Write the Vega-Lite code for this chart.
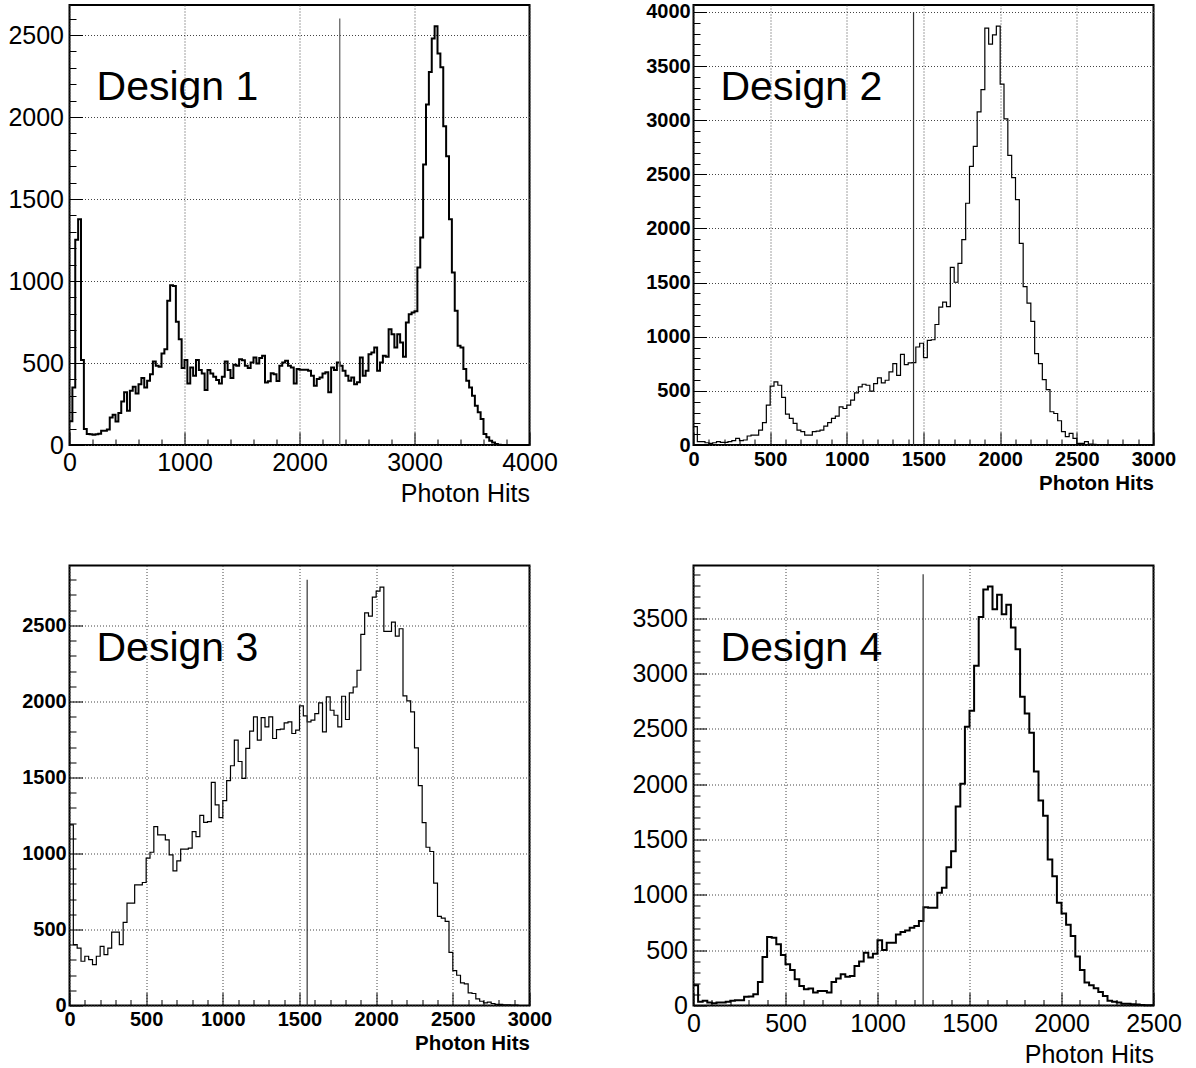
{
  "$schema": "https://vega.github.io/schema/vega-lite/v6.json",
  "padding": {"left": 6.5, "top": 0, "right": 5, "bottom": 2},
  "background": "white",
  "bounds": "flush",
  "spacing": {"row": 120.5, "column": 164},
  "columns": 2,
  "datasets": {
    "d1": [
      {"x":0,"y":145},{"x":25,"y":351},{"x":50,"y":1252},{"x":75,"y":1376},{"x":100,"y":518},{"x":125,"y":97},{"x":150,"y":67},{"x":175,"y":65},{"x":200,"y":62},{"x":225,"y":65},
      {"x":250,"y":68},{"x":275,"y":87},{"x":300,"y":87},{"x":325,"y":95},{"x":350,"y":168},{"x":375,"y":184},{"x":400,"y":144},{"x":425,"y":195},{"x":450,"y":265},{"x":475,"y":322},
      {"x":500,"y":209},{"x":525,"y":331},{"x":550,"y":355},{"x":575,"y":314},{"x":600,"y":371},{"x":625,"y":408},{"x":650,"y":351},{"x":675,"y":392},{"x":700,"y":432},{"x":725,"y":509},
      {"x":750,"y":483},{"x":775,"y":477},{"x":800,"y":558},{"x":825,"y":584},{"x":850,"y":879},{"x":875,"y":974},{"x":900,"y":970},{"x":925,"y":751},{"x":950,"y":645},{"x":975,"y":469},
      {"x":1000,"y":519},{"x":1025,"y":375},{"x":1050,"y":473},{"x":1075,"y":422},{"x":1100,"y":519},{"x":1125,"y":457},{"x":1150,"y":436},{"x":1175,"y":335},{"x":1200,"y":457},{"x":1225,"y":436},
      {"x":1250,"y":416},{"x":1275,"y":396},{"x":1300,"y":375},{"x":1325,"y":416},{"x":1350,"y":509},{"x":1375,"y":457},{"x":1400,"y":408},{"x":1425,"y":489},{"x":1450,"y":483},{"x":1475,"y":523},
      {"x":1500,"y":517},{"x":1525,"y":483},{"x":1550,"y":469},{"x":1575,"y":503},{"x":1600,"y":534},{"x":1625,"y":497},{"x":1650,"y":530},{"x":1675,"y":544},{"x":1700,"y":381},{"x":1725,"y":388},
      {"x":1750,"y":438},{"x":1775,"y":432},{"x":1800,"y":391},{"x":1825,"y":483},{"x":1850,"y":503},{"x":1875,"y":513},{"x":1900,"y":483},{"x":1925,"y":473},{"x":1950,"y":375},{"x":1975,"y":463},
      {"x":2000,"y":459},{"x":2025,"y":459},{"x":2050,"y":459},{"x":2075,"y":453},{"x":2100,"y":422},{"x":2125,"y":361},{"x":2150,"y":402},{"x":2175,"y":412},{"x":2200,"y":436},{"x":2225,"y":443},
      {"x":2250,"y":321},{"x":2275,"y":473},{"x":2300,"y":457},{"x":2325,"y":503},{"x":2350,"y":483},{"x":2375,"y":453},{"x":2400,"y":422},{"x":2425,"y":392},{"x":2450,"y":412},{"x":2475,"y":371},
      {"x":2500,"y":382},{"x":2525,"y":534},{"x":2550,"y":422},{"x":2575,"y":453},{"x":2600,"y":554},{"x":2625,"y":564},{"x":2650,"y":595},{"x":2675,"y":453},{"x":2700,"y":503},{"x":2725,"y":544},
      {"x":2750,"y":538},{"x":2775,"y":706},{"x":2800,"y":676},{"x":2825,"y":595},{"x":2850,"y":676},{"x":2875,"y":625},{"x":2900,"y":538},{"x":2925,"y":747},{"x":2950,"y":798},{"x":2975,"y":808},
      {"x":3000,"y":815},{"x":3025,"y":1082},{"x":3050,"y":1265},{"x":3075,"y":1711},{"x":3100,"y":2077},{"x":3125,"y":2274},{"x":3150,"y":2479},{"x":3175,"y":2554},{"x":3200,"y":2387},{"x":3225,"y":2304},
      {"x":3250,"y":1943},{"x":3275,"y":1760},{"x":3300,"y":1376},{"x":3325,"y":1052},{"x":3350,"y":818},{"x":3375,"y":605},{"x":3400,"y":595},{"x":3425,"y":463},{"x":3450,"y":392},{"x":3475,"y":351},
      {"x":3500,"y":300},{"x":3525,"y":240},{"x":3550,"y":199},{"x":3575,"y":158},{"x":3600,"y":67},{"x":3625,"y":47},{"x":3650,"y":26},{"x":3675,"y":16},{"x":3700,"y":6},{"x":3725,"y":2},
      {"x":3750,"y":0},{"x":3775,"y":0},{"x":3800,"y":0},{"x":3825,"y":0},{"x":3850,"y":0},{"x":3875,"y":0},{"x":3900,"y":0},{"x":3925,"y":0},{"x":3950,"y":0},{"x":3975,"y":0},
      {"x":4000,"y":0}
    ],
    "d2": [
      {"x":0,"y":169},{"x":25,"y":31},{"x":50,"y":31},{"x":75,"y":21},{"x":100,"y":15},{"x":125,"y":21},{"x":150,"y":31},{"x":175,"y":25},{"x":200,"y":25},{"x":225,"y":31},
      {"x":250,"y":40},{"x":275,"y":61},{"x":300,"y":40},{"x":325,"y":46},{"x":350,"y":83},{"x":375,"y":92},{"x":400,"y":92},{"x":425,"y":138},{"x":450,"y":206},{"x":475,"y":368},
      {"x":500,"y":543},{"x":525,"y":583},{"x":550,"y":552},{"x":575,"y":439},{"x":600,"y":285},{"x":625,"y":245},{"x":650,"y":199},{"x":675,"y":138},{"x":700,"y":123},{"x":725,"y":92},
      {"x":750,"y":92},{"x":775,"y":123},{"x":800,"y":129},{"x":825,"y":138},{"x":850,"y":175},{"x":875,"y":206},{"x":900,"y":245},{"x":925,"y":267},{"x":950,"y":353},{"x":975,"y":337},
      {"x":1000,"y":368},{"x":1025,"y":414},{"x":1050,"y":482},{"x":1075,"y":537},{"x":1100,"y":561},{"x":1125,"y":552},{"x":1150,"y":497},{"x":1175,"y":567},{"x":1200,"y":620},{"x":1225,"y":574},
      {"x":1250,"y":598},{"x":1275,"y":675},{"x":1300,"y":752},{"x":1325,"y":644},{"x":1350,"y":837},{"x":1375,"y":742},{"x":1400,"y":758},{"x":1425,"y":760},{"x":1450,"y":905},{"x":1475,"y":940},
      {"x":1500,"y":807},{"x":1525,"y":966},{"x":1550,"y":972},{"x":1575,"y":1113},{"x":1600,"y":1273},{"x":1625,"y":1319},{"x":1650,"y":1279},{"x":1675,"y":1641},{"x":1700,"y":1503},{"x":1725,"y":1678},
      {"x":1750,"y":1896},{"x":1775,"y":2233},{"x":1800,"y":2574},{"x":1825,"y":2758},{"x":1850,"y":3077},{"x":1875,"y":3282},{"x":1900,"y":3850},{"x":1925,"y":3702},{"x":1950,"y":3788},{"x":1975,"y":3868},
      {"x":2000,"y":3334},{"x":2025,"y":3012},{"x":2050,"y":2675},{"x":2075,"y":2469},{"x":2100,"y":2267},{"x":2125,"y":1862},{"x":2150,"y":1463},{"x":2175,"y":1310},{"x":2200,"y":1141},{"x":2225,"y":844},
      {"x":2250,"y":752},{"x":2275,"y":604},{"x":2300,"y":512},{"x":2325,"y":307},{"x":2350,"y":291},{"x":2375,"y":224},{"x":2400,"y":123},{"x":2425,"y":77},{"x":2450,"y":107},{"x":2475,"y":61},
      {"x":2500,"y":15},{"x":2525,"y":15},{"x":2550,"y":31},{"x":2575,"y":8},{"x":2600,"y":5},{"x":2625,"y":3},{"x":2650,"y":3},{"x":2675,"y":0},{"x":2700,"y":0},{"x":2725,"y":0},
      {"x":2750,"y":0},{"x":2775,"y":0},{"x":2800,"y":0},{"x":2825,"y":0},{"x":2850,"y":0},{"x":2875,"y":0},{"x":2900,"y":0},{"x":2925,"y":0},{"x":2950,"y":0},{"x":2975,"y":0},
      {"x":3000,"y":0}
    ],
    "d3": [
      {"x":0,"y":1188},{"x":25,"y":400},{"x":50,"y":378},{"x":75,"y":291},{"x":100,"y":324},{"x":125,"y":302},{"x":150,"y":269},{"x":175,"y":324},{"x":200,"y":389},{"x":225,"y":335},
      {"x":250,"y":378},{"x":275,"y":483},{"x":300,"y":483},{"x":325,"y":400},{"x":350,"y":547},{"x":375,"y":674},{"x":400,"y":674},{"x":425,"y":794},{"x":450,"y":794},{"x":475,"y":809},
      {"x":500,"y":969},{"x":525,"y":1008},{"x":550,"y":1177},{"x":575,"y":1122},{"x":600,"y":1122},{"x":625,"y":1089},{"x":650,"y":991},{"x":675,"y":886},{"x":700,"y":951},{"x":725,"y":1028},
      {"x":750,"y":1028},{"x":775,"y":1035},{"x":800,"y":1144},{"x":825,"y":1111},{"x":850,"y":1251},{"x":875,"y":1205},{"x":900,"y":1210},{"x":925,"y":1468},{"x":950,"y":1319},{"x":975,"y":1236},
      {"x":1000,"y":1347},{"x":1025,"y":1479},{"x":1050,"y":1577},{"x":1075,"y":1745},{"x":1100,"y":1605},{"x":1125,"y":1494},{"x":1150,"y":1691},{"x":1175,"y":1804},{"x":1200,"y":1899},{"x":1225,"y":1745},
      {"x":1250,"y":1894},{"x":1275,"y":1833},{"x":1300,"y":1899},{"x":1325,"y":1756},{"x":1350,"y":1815},{"x":1375,"y":1818},{"x":1400,"y":1859},{"x":1425,"y":1866},{"x":1450,"y":1789},{"x":1475,"y":1811},
      {"x":1500,"y":1971},{"x":1525,"y":1905},{"x":1550,"y":1866},{"x":1575,"y":1877},{"x":1600,"y":1920},{"x":1625,"y":1990},{"x":1650,"y":1800},{"x":1675,"y":2030},{"x":1700,"y":1942},{"x":1725,"y":1909},
      {"x":1750,"y":1833},{"x":1775,"y":2034},{"x":1800,"y":1881},{"x":1825,"y":2056},{"x":1850,"y":2095},{"x":1875,"y":2205},{"x":1900,"y":2441},{"x":1925,"y":2583},{"x":1950,"y":2561},{"x":1975,"y":2686},
      {"x":2000,"y":2725},{"x":2025,"y":2752},{"x":2050,"y":2461},{"x":2075,"y":2461},{"x":2100,"y":2522},{"x":2125,"y":2430},{"x":2150,"y":2478},{"x":2175,"y":2036},{"x":2200,"y":2004},{"x":2225,"y":1931},
      {"x":2250,"y":1695},{"x":2275,"y":1446},{"x":2300,"y":1203},{"x":2325,"y":1041},{"x":2350,"y":1013},{"x":2375,"y":805},{"x":2400,"y":586},{"x":2425,"y":575},{"x":2450,"y":553},{"x":2475,"y":350},
      {"x":2500,"y":230},{"x":2525,"y":199},{"x":2550,"y":149},{"x":2575,"y":142},{"x":2600,"y":83},{"x":2625,"y":79},{"x":2650,"y":44},{"x":2675,"y":28},{"x":2700,"y":17},{"x":2725,"y":22},
      {"x":2750,"y":13},{"x":2775,"y":7},{"x":2800,"y":7},{"x":2825,"y":4},{"x":2850,"y":5},{"x":2875,"y":2},{"x":2900,"y":3},{"x":2925,"y":0},{"x":2950,"y":0},{"x":2975,"y":0},
      {"x":3000,"y":0}
    ],
    "d4": [
      {"x":0,"y":183},{"x":25,"y":33},{"x":50,"y":42},{"x":75,"y":27},{"x":100,"y":21},{"x":125,"y":27},{"x":150,"y":27},{"x":175,"y":33},{"x":200,"y":42},{"x":225,"y":48},
      {"x":250,"y":48},{"x":275,"y":78},{"x":300,"y":81},{"x":325,"y":102},{"x":350,"y":213},{"x":375,"y":439},{"x":400,"y":619},{"x":425,"y":613},{"x":450,"y":553},{"x":475,"y":457},
      {"x":500,"y":373},{"x":525,"y":322},{"x":550,"y":237},{"x":575,"y":177},{"x":600,"y":147},{"x":625,"y":153},{"x":650,"y":117},{"x":675,"y":132},{"x":700,"y":132},{"x":725,"y":117},
      {"x":750,"y":213},{"x":775,"y":243},{"x":800,"y":282},{"x":825,"y":261},{"x":850,"y":267},{"x":875,"y":358},{"x":900,"y":397},{"x":925,"y":478},{"x":950,"y":433},{"x":975,"y":469},
      {"x":1000,"y":589},{"x":1025,"y":502},{"x":1050,"y":568},{"x":1075,"y":568},{"x":1100,"y":643},{"x":1125,"y":664},{"x":1150,"y":679},{"x":1175,"y":703},{"x":1200,"y":718},{"x":1225,"y":763},
      {"x":1250,"y":889},{"x":1275,"y":883},{"x":1300,"y":883},{"x":1325,"y":1019},{"x":1350,"y":1064},{"x":1375,"y":1250},{"x":1400,"y":1394},{"x":1425,"y":1800},{"x":1450,"y":2004},{"x":1475,"y":2521},
      {"x":1500,"y":2665},{"x":1525,"y":3071},{"x":1550,"y":3513},{"x":1575,"y":3762},{"x":1600,"y":3789},{"x":1625,"y":3582},{"x":1650,"y":3714},{"x":1675,"y":3537},{"x":1700,"y":3624},{"x":1725,"y":3417},
      {"x":1750,"y":3221},{"x":1775,"y":2791},{"x":1800,"y":2641},{"x":1825,"y":2467},{"x":1850,"y":2115},{"x":1875,"y":1854},{"x":1900,"y":1716},{"x":1925,"y":1319},{"x":1950,"y":1169},{"x":1975,"y":928},
      {"x":2000,"y":832},{"x":2025,"y":730},{"x":2050,"y":628},{"x":2075,"y":442},{"x":2100,"y":322},{"x":2125,"y":207},{"x":2150,"y":183},{"x":2175,"y":156},{"x":2200,"y":123},{"x":2225,"y":87},
      {"x":2250,"y":42},{"x":2275,"y":33},{"x":2300,"y":27},{"x":2325,"y":15},{"x":2350,"y":15},{"x":2375,"y":12},{"x":2400,"y":8},{"x":2425,"y":5},{"x":2450,"y":3},{"x":2475,"y":2},
      {"x":2500,"y":2}
    ],
    "one": [{"k": 1}]
  },
  "concat": [
    {
      "width": 460, "height": 440,
      "layer": [
        {
          "data": {"name": "d1"},
          "mark": {"type": "line", "interpolate": "step-after", "color": "black", "strokeWidth": 2},
          "encoding": {
            "x": {"field": "x", "type": "quantitative",
              "scale": {"domain": [0, 4000], "nice": false, "zero": false},
              "axis": {"values": [0,200,400,600,800,1000,1200,1400,1600,1800,2000,2200,2400,2600,2800,3000,3200,3400,3600,3800,4000], "tickCount": 200,
                "format": "d", "title": "Photon Hits", "titleAnchor": "end", "titleAlign": "right",
                "titleFont": "Liberation Sans", "titleFontSize": 25, "titleFontWeight": "normal", "titlePadding": -1,
                "labelFont": "Liberation Sans", "labelFontSize": 25, "labelPadding": 18.5, "labelOverlap": false, "labelFlush": false, "labelBound": false,
                "labelExpr": "datum.value % 1000 === 0 ? datum.label : ''",
                "tickSize": {"condition": {"test": "datum.value % 1000 === 0", "value": -13}, "value": -6},
                "gridOpacity": {"condition": {"test": "datum.value % 1000 === 0", "value": 1}, "value": 0}}},
            "y": {"field": "y", "type": "quantitative",
              "scale": {"domain": [0, 2683], "nice": false, "zero": false},
              "axis": {"values": [0,100,200,300,400,500,600,700,800,900,1000,1100,1200,1300,1400,1500,1600,1700,1800,1900,2000,2100,2200,2300,2400,2500,2600], "tickCount": 200,
                "format": "d", "title": null,
                "labelFont": "Liberation Sans", "labelFontSize": 25, "labelPadding": 19, "labelOverlap": false, "labelFlush": false, "labelBound": false,
                "labelExpr": "datum.value % 500 === 0 ? datum.label : ''",
                "tickSize": {"condition": {"test": "datum.value % 500 === 0", "value": -13}, "value": -6.5},
                "gridOpacity": {"condition": {"test": "datum.value % 500 === 0", "value": 1}, "value": 0}}}
          }
        },
        {
          "data": {"name": "one"},
          "mark": {"type": "rule", "color": "#666666", "strokeWidth": 1.3},
          "encoding": {"x": {"datum": 2350}, "y": {"datum": 0}, "y2": {"datum": 2600}}
        },
        {
          "data": {"name": "one"},
          "mark": {"type": "text", "font": "Liberation Sans", "fontSize": 41, "align": "left", "baseline": "alphabetic", "color": "black"},
          "encoding": {"x": {"datum": 235}, "y": {"datum": 2104}, "text": {"value": "Design 1"}}
        }
      ]
    },
    {
      "width": 460, "height": 440,
      "layer": [
        {
          "data": {"name": "d2"},
          "mark": {"type": "line", "interpolate": "step-after", "color": "black", "strokeWidth": 1.2},
          "encoding": {
            "x": {"field": "x", "type": "quantitative",
              "scale": {"domain": [0, 3000], "nice": false, "zero": false},
              "axis": {"values": [0,100,200,300,400,500,600,700,800,900,1000,1100,1200,1300,1400,1500,1600,1700,1800,1900,2000,2100,2200,2300,2400,2500,2600,2700,2800,2900,3000], "tickCount": 200,
                "format": "d", "title": "Photon Hits", "titleAnchor": "end", "titleAlign": "right",
                "titleFont": "Liberation Sans", "titleFontSize": 20.5, "titleFontWeight": "bold", "titlePadding": -3,
                "labelFont": "Liberation Sans", "labelFontSize": 20, "labelFontWeight": "bold", "labelPadding": 17, "labelOverlap": false, "labelFlush": false, "labelBound": false,
                "labelExpr": "datum.value % 500 === 0 ? datum.label : ''",
                "tickSize": {"condition": {"test": "datum.value % 500 === 0", "value": -13}, "value": -6},
                "gridOpacity": {"condition": {"test": "datum.value % 500 === 0", "value": 1}, "value": 0}}},
            "y": {"field": "y", "type": "quantitative",
              "scale": {"domain": [0, 4064], "nice": false, "zero": false},
              "axis": {"values": [0,100,200,300,400,500,600,700,800,900,1000,1100,1200,1300,1400,1500,1600,1700,1800,1900,2000,2100,2200,2300,2400,2500,2600,2700,2800,2900,3000,3100,3200,3300,3400,3500,3600,3700,3800,3900,4000], "tickCount": 200,
                "format": "d", "title": null,
                "labelFont": "Liberation Sans", "labelFontSize": 20, "labelFontWeight": "bold", "labelPadding": 16.3, "labelOverlap": false, "labelFlush": false, "labelBound": false,
                "labelExpr": "datum.value % 500 === 0 ? datum.label : ''",
                "tickSize": {"condition": {"test": "datum.value % 500 === 0", "value": -13}, "value": -6.5},
                "gridOpacity": {"condition": {"test": "datum.value % 500 === 0", "value": 1}, "value": 0}}}
          }
        },
        {
          "data": {"name": "one"},
          "mark": {"type": "rule", "color": "#333333", "strokeWidth": 1.2},
          "encoding": {"x": {"datum": 1435}, "y": {"datum": 0}, "y2": {"datum": 4000}}
        },
        {
          "data": {"name": "one"},
          "mark": {"type": "text", "font": "Liberation Sans", "fontSize": 41, "align": "left", "baseline": "alphabetic", "color": "black"},
          "encoding": {"x": {"datum": 176}, "y": {"datum": 3187}, "text": {"value": "Design 2"}}
        }
      ]
    },
    {
      "width": 460, "height": 440,
      "layer": [
        {
          "data": {"name": "d3"},
          "mark": {"type": "line", "interpolate": "step-after", "color": "black", "strokeWidth": 1.2},
          "encoding": {
            "x": {"field": "x", "type": "quantitative",
              "scale": {"domain": [0, 3000], "nice": false, "zero": false},
              "axis": {"values": [0,100,200,300,400,500,600,700,800,900,1000,1100,1200,1300,1400,1500,1600,1700,1800,1900,2000,2100,2200,2300,2400,2500,2600,2700,2800,2900,3000], "tickCount": 200,
                "format": "d", "title": "Photon Hits", "titleAnchor": "end", "titleAlign": "right",
                "titleFont": "Liberation Sans", "titleFontSize": 20.5, "titleFontWeight": "bold", "titlePadding": -3,
                "labelFont": "Liberation Sans", "labelFontSize": 20, "labelFontWeight": "bold", "labelPadding": 17, "labelOverlap": false, "labelFlush": false, "labelBound": false,
                "labelExpr": "datum.value % 500 === 0 ? datum.label : ''",
                "tickSize": {"condition": {"test": "datum.value % 500 === 0", "value": -13}, "value": -6},
                "gridOpacity": {"condition": {"test": "datum.value % 500 === 0", "value": 1}, "value": 0}}},
            "y": {"field": "y", "type": "quantitative",
              "scale": {"domain": [0, 2894], "nice": false, "zero": false},
              "axis": {"values": [0,100,200,300,400,500,600,700,800,900,1000,1100,1200,1300,1400,1500,1600,1700,1800,1900,2000,2100,2200,2300,2400,2500,2600,2700,2800], "tickCount": 200,
                "format": "d", "title": null,
                "labelFont": "Liberation Sans", "labelFontSize": 20, "labelFontWeight": "bold", "labelPadding": 16.3, "labelOverlap": false, "labelFlush": false, "labelBound": false,
                "labelExpr": "datum.value % 500 === 0 ? datum.label : ''",
                "tickSize": {"condition": {"test": "datum.value % 500 === 0", "value": -13}, "value": -6.5},
                "gridOpacity": {"condition": {"test": "datum.value % 500 === 0", "value": 1}, "value": 0}}}
          }
        },
        {
          "data": {"name": "one"},
          "mark": {"type": "rule", "color": "#333333", "strokeWidth": 1.2},
          "encoding": {"x": {"datum": 1550}, "y": {"datum": 0}, "y2": {"datum": 2800}}
        },
        {
          "data": {"name": "one"},
          "mark": {"type": "text", "font": "Liberation Sans", "fontSize": 41, "align": "left", "baseline": "alphabetic", "color": "black"},
          "encoding": {"x": {"datum": 176}, "y": {"datum": 2269}, "text": {"value": "Design 3"}}
        }
      ]
    },
    {
      "width": 460, "height": 440,
      "layer": [
        {
          "data": {"name": "d4"},
          "mark": {"type": "line", "interpolate": "step-after", "color": "black", "strokeWidth": 2},
          "encoding": {
            "x": {"field": "x", "type": "quantitative",
              "scale": {"domain": [0, 2500], "nice": false, "zero": false},
              "axis": {"values": [0,100,200,300,400,500,600,700,800,900,1000,1100,1200,1300,1400,1500,1600,1700,1800,1900,2000,2100,2200,2300,2400,2500], "tickCount": 200,
                "format": "d", "title": "Photon Hits", "titleAnchor": "end", "titleAlign": "right",
                "titleFont": "Liberation Sans", "titleFontSize": 25, "titleFontWeight": "normal", "titlePadding": -1,
                "labelFont": "Liberation Sans", "labelFontSize": 25, "labelPadding": 18.5, "labelOverlap": false, "labelFlush": false, "labelBound": false,
                "labelExpr": "datum.value % 500 === 0 ? datum.label : ''",
                "tickSize": {"condition": {"test": "datum.value % 500 === 0", "value": -13}, "value": -6},
                "gridOpacity": {"condition": {"test": "datum.value % 500 === 0", "value": 1}, "value": 0}}},
            "y": {"field": "y", "type": "quantitative",
              "scale": {"domain": [0, 3978], "nice": false, "zero": false},
              "axis": {"values": [0,100,200,300,400,500,600,700,800,900,1000,1100,1200,1300,1400,1500,1600,1700,1800,1900,2000,2100,2200,2300,2400,2500,2600,2700,2800,2900,3000,3100,3200,3300,3400,3500,3600,3700,3800,3900], "tickCount": 200,
                "format": "d", "title": null,
                "labelFont": "Liberation Sans", "labelFontSize": 25, "labelPadding": 19, "labelOverlap": false, "labelFlush": false, "labelBound": false,
                "labelExpr": "datum.value % 500 === 0 ? datum.label : ''",
                "tickSize": {"condition": {"test": "datum.value % 500 === 0", "value": -13}, "value": -6.5},
                "gridOpacity": {"condition": {"test": "datum.value % 500 === 0", "value": 1}, "value": 0}}}
          }
        },
        {
          "data": {"name": "one"},
          "mark": {"type": "rule", "color": "#333333", "strokeWidth": 1.2},
          "encoding": {"x": {"datum": 1248}, "y": {"datum": 0}, "y2": {"datum": 3900}}
        },
        {
          "data": {"name": "one"},
          "mark": {"type": "text", "font": "Liberation Sans", "fontSize": 41, "align": "left", "baseline": "alphabetic", "color": "black"},
          "encoding": {"x": {"datum": 147}, "y": {"datum": 3119}, "text": {"value": "Design 4"}}
        }
      ]
    }
  ],
  "config": {
    "font": "Liberation Sans",
    "view": {"stroke": "black", "strokeWidth": 2},
    "axis": {
      "domain": false,
      "grid": true,
      "gridColor": "#444444",
      "gridDash": [1, 2],
      "gridWidth": 1,
      "labelColor": "black",
      "titleColor": "black",
      "tickColor": "black",
      "tickWidth": 1
    }
  }
}
